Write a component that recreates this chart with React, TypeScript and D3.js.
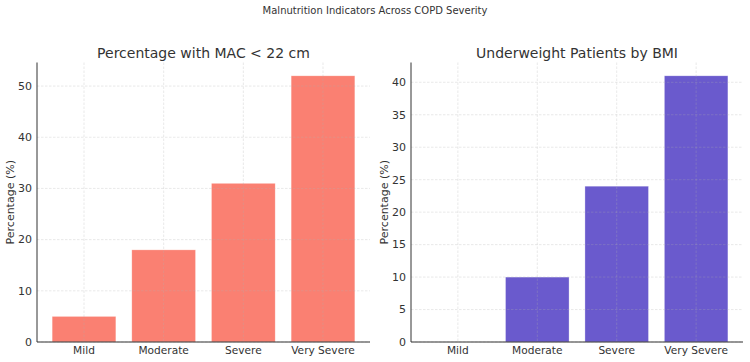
import * as d3 from "d3";
import React, { useRef, useEffect } from "react";

const width = 750;
const height = 362;

const severity = ["Mild", "Moderate", "Severe", "Very Severe"];
const macBelow22 = [5, 18, 31, 52];
const underweightBmi = [0, 10, 24, 41];
const macTicks = [0, 10, 20, 30, 40, 50];
const bmiTicks = [0, 5, 10, 15, 20, 25, 30, 35, 40];

const font = "DejaVu Sans, sans-serif";
const textColor = "#333";

function drawPanel(svg, opts) {
  const { left, right, top, bottom, values, ticks, color, title } = opts;
  const g = svg.append("g");

  const x = d3
    .scaleBand()
    .domain(severity)
    .range([left, right])
    .paddingInner(0.2)
    .paddingOuter(0.19);

  const y = d3
    .scaleLinear()
    .domain([0, d3.max(values) * 1.05])
    .range([bottom, top]);

  // bars
  g.selectAll("rect.bar")
    .data(values)
    .enter()
    .append("rect")
    .attr("class", "bar")
    .attr("x", (d, i) => x(severity[i]))
    .attr("y", (d) => y(d))
    .attr("width", x.bandwidth())
    .attr("height", (d) => y(0) - y(d))
    .attr("fill", color)
    .attr("stroke", "#fff")
    .attr("stroke-opacity", 0.5)
    .attr("stroke-width", 0.6);

  // grid sits over the bars
  const grid = g.append("g").attr("stroke", "#b0b0b0").attr("stroke-opacity", 0.4)
    .attr("stroke-width", 0.7).attr("stroke-dasharray", "2.5,1.5");
  grid.selectAll("line.h")
    .data(ticks)
    .enter()
    .append("line")
    .attr("x1", left)
    .attr("x2", right)
    .attr("y1", (d) => y(d))
    .attr("y2", (d) => y(d));
  grid.selectAll("line.v")
    .data(severity)
    .enter()
    .append("line")
    .attr("x1", (d) => x(d) + x.bandwidth() / 2)
    .attr("x2", (d) => x(d) + x.bandwidth() / 2)
    .attr("y1", top)
    .attr("y2", bottom);

  // spines
  g.append("line").attr("x1", left).attr("x2", left).attr("y1", top).attr("y2", bottom)
    .attr("stroke", textColor).attr("stroke-width", 1);
  g.append("line").attr("x1", left).attr("x2", right).attr("y1", bottom).attr("y2", bottom)
    .attr("stroke", textColor).attr("stroke-width", 1);

  // y tick labels
  g.selectAll("text.yt")
    .data(ticks)
    .enter()
    .append("text")
    .attr("x", left - 5)
    .attr("y", (d) => y(d))
    .attr("dy", "0.35em")
    .attr("text-anchor", "end")
    .attr("font-size", 11)
    .attr("fill", textColor)
    .text((d) => d);

  // x tick labels
  g.selectAll("text.xt")
    .data(severity)
    .enter()
    .append("text")
    .attr("x", (d) => x(d) + x.bandwidth() / 2)
    .attr("y", bottom + 12)
    .attr("text-anchor", "middle")
    .attr("font-size", 10.6)
    .attr("fill", textColor)
    .text((d) => d);

  // y label
  g.append("text")
    .attr("transform", `translate(${left - 23},${(top + bottom) / 2}) rotate(-90)`)
    .attr("text-anchor", "middle")
    .attr("font-size", 11)
    .attr("fill", textColor)
    .text("Percentage (%)");

  // title
  g.append("text")
    .attr("x", (left + right) / 2)
    .attr("y", top - 5)
    .attr("text-anchor", "middle")
    .attr("font-size", 14)
    .attr("fill", textColor)
    .text(title);
}

function App() {
  const ref = useRef(null);

  useEffect(() => {
    const svg = d3.select(ref.current);
    svg.selectAll("*").remove();

    svg.append("text")
      .attr("x", 375)
      .attr("y", 14)
      .attr("text-anchor", "middle")
      .attr("font-size", 10)
      .attr("fill", textColor)
      .text("Malnutrition Indicators Across COPD Severity");

    drawPanel(svg, {
      left: 37, right: 370, top: 62.5, bottom: 342,
      values: macBelow22, ticks: macTicks, color: "#fa8072",
      title: "Percentage with MAC < 22 cm",
    });
    drawPanel(svg, {
      left: 411, right: 743, top: 62.5, bottom: 342,
      values: underweightBmi, ticks: bmiTicks, color: "#6a5acd",
      title: "Underweight Patients by BMI",
    });
  }, []);

  return (
    <svg
      ref={ref}
      width={width}
      height={height}
      style={{ position: "absolute", left: 0, top: 0, background: "#fff", fontFamily: font }}
    ></svg>
  );
}

export default App;
